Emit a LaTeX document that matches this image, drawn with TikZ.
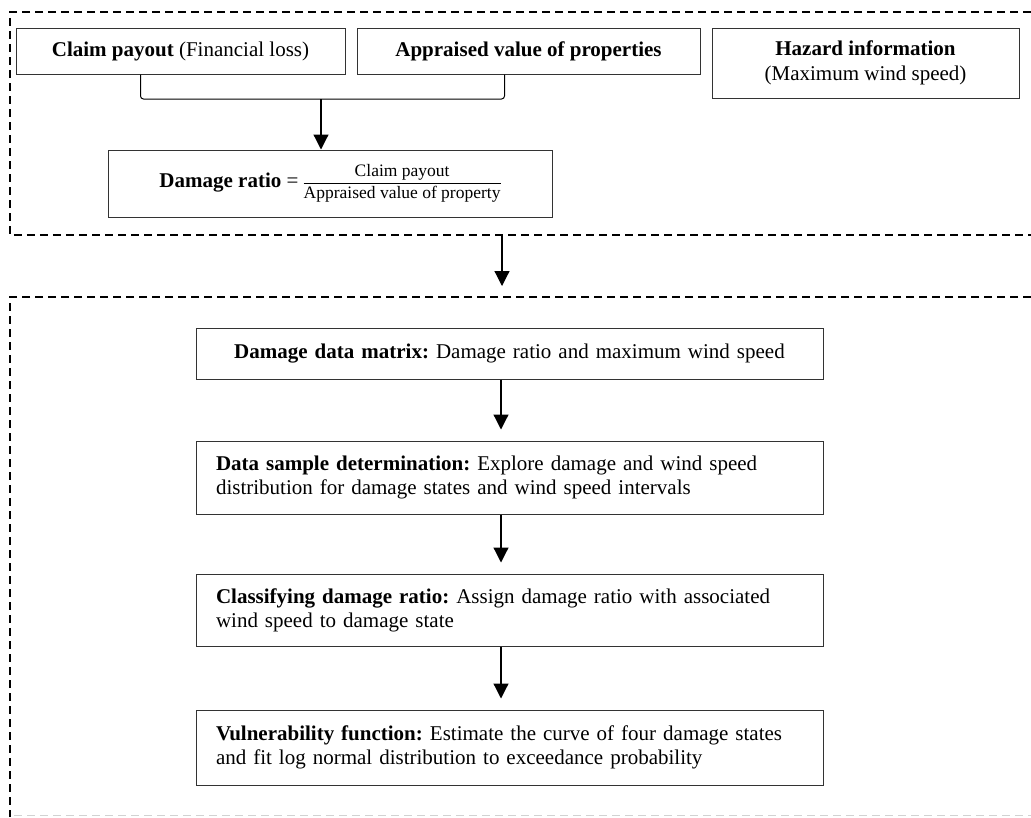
\documentclass[tikz,border=0pt]{standalone}
\usepackage{fontspec}
\setmainfont{Liberation Serif}
\usepackage{tikz}
\usetikzlibrary{arrows.meta}
\usetikzlibrary{positioning}

\tikzset{
  box/.style={draw=black!80,line width=1pt,inner sep=0pt,minimum height=46pt,align=center},
  stepbox/.style={box,text width=587pt,inner xsep=20pt,align=left},
  frame/.style={line width=1.4pt,dash pattern=on 8pt off 5pt},
  arr/.style={-{Triangle[length=15pt,width=15pt]},line width=1.2pt}
}
\newcommand{\fracfont}{\fontsize{17.5}{19}\selectfont}
\frenchspacing

\begin{document}
\begin{tikzpicture}[x=1pt,y=-1pt,font=\fontsize{21}{24}\selectfont]
        \useasboundingbox (0,0) rectangle (1031,817);
        % dashed frames
        \draw[frame] (1031,12) -- (10,12) -- (10,235) -- (1031,235);
        \draw[frame] (1031,297) -- (10,297) -- (10,817);
        \draw[frame,gray!35,line width=1pt] (14,815) -- (1031,815);
        % input data
        \node[box,minimum width=329pt] (claim) at (180.5,51) {\textbf{Claim payout} (Financial loss)};
        \node[box,minimum width=343pt,right=11pt of claim] (apprs) {\textbf{Appraised value of properties}};
        \node[box,minimum width=307pt,minimum height=70pt,font=\fontsize{21}{25}\selectfont,
              right=11pt of apprs.north east,anchor=north west] (hazard)
              {\textbf{Hazard information}\\(Maximum wind speed)};
        \node[box,minimum width=444pt,minimum height=67pt] (ratio) at (330,183.5)
              {\textbf{Damage ratio} = \renewcommand{\arraystretch}{1.05}\setlength{\arrayrulewidth}{1.5pt}%
               \fracfont\begin{tabular}{@{}c@{}}Claim payout\\\hline Appraised value of property\end{tabular}};
        \coordinate (jn) at (321,99);
        \draw[line width=1pt,rounded corners=3pt] ([xshift=-40pt]claim.south) |- (jn) -| ([xshift=-24pt]apprs.south);
        \draw[arr] (jn) -- (jn |- ratio.north);
        \coordinate (out) at (502,235);
        \coordinate (in) at (502,286);
        \draw[arr] (out) -- (in);
        % vulnerability steps
        \node[stepbox,align=center,minimum height=51pt] (matrix) at (509.5,353.5)
              {\textbf{Damage data matrix:} Damage ratio and maximum wind speed};
        \node[stepbox,minimum height=73pt,below=61pt of matrix] (sample)
              {\textbf{Data sample determination:} Explore damage and wind speed\\distribution for damage states and wind speed intervals};
        \node[stepbox,minimum height=72pt,below=59pt of sample] (classify)
              {\textbf{Classifying damage ratio:} Assign damage ratio with associated\\wind speed to damage state};
        \node[stepbox,minimum height=75pt,below=63pt of classify] (vuln)
              {\textbf{Vulnerability function:} Estimate the curve of four damage states\\and fit log normal distribution to exceedance probability};
        \foreach \from/\to in {matrix/sample,sample/classify,classify/vuln}
        \draw[arr,shorten >=11pt] ([xshift=-8.5pt]\from.south) -- ([xshift=-8.5pt]\to.north);
      \end{tikzpicture}
\end{document}
